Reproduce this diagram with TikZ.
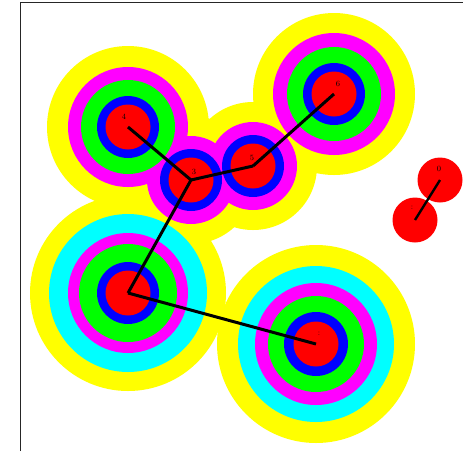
\documentclass[tikz,border=0pt]{standalone}
\definecolor{yl}{RGB}{255,255,0}
\definecolor{cy}{RGB}{0,255,255}
\definecolor{mg}{RGB}{255,0,255}
\definecolor{gr}{RGB}{0,255,0}
\definecolor{bl}{RGB}{0,0,255}
\definecolor{rd}{RGB}{255,0,0}
\begin{document}
\begin{tikzpicture}[x=1pt,y=-1pt,
  core/.style={circle,fill=rd,minimum size=45pt,inner sep=0pt},
  link/.style={draw=black,line width=3pt},
  lab/.style={inner sep=0pt,font=\fontsize{8}{8}\selectfont,text=black}]
\useasboundingbox (0,0) rectangle (463,451);
\fill[white] (0,0) rectangle (463,451);
\draw[black!85,line width=1.6pt] (20.5,451) -- (20.5,2.5) -- (463,2.5);
% centres
\coordinate (c4) at (128,127);
\coordinate (c3) at (191,180);
\coordinate (c5) at (253,166);
\coordinate (c6) at (334,94);
\coordinate (c7) at (128,293);
\coordinate (c2) at (316,344);
\coordinate (c0) at (440,180);
\coordinate (c1) at (415,220);
% yellow layer
\foreach \c/\r in {c4/81,c3/64,c5/64,c6/81,c7/98,c2/99}
  \fill[yl] (\c) circle[radius=\r pt];
% cyan layer
\foreach \c/\r in {c7/79,c2/78}
  \fill[cy] (\c) circle[radius=\r pt];
% magenta layer
\foreach \c/\r in {c4/60,c3/44,c5/44,c6/61,c7/60,c2/61}
  \fill[mg] (\c) circle[radius=\r pt];
% green layer
\foreach \c/\r in {c4/47,c6/47,c7/49,c2/48}
  \fill[gr] (\c) circle[radius=\r pt];
% blue layer
\foreach \c/\r in {c4/31,c3/31,c5/31,c6/31,c7/31,c2/32}
  \fill[bl] (\c) circle[radius=\r pt];
% red cores
\node[core] (n4) at (c4) {};
\node[core] (n3) at (c3) {};
\node[core] (n5) at (c5) {};
\node[core] (n6) at (c6) {};
\node[core] (n7) at (c7) {};
\node[core] (n2) at (c2) {};
\node[core] (n0) at (c0) {};
\node[core] (n1) at (c1) {};
% links
\draw[link] (n4.center) -- (n3.center);
\draw[link] (n3.center) -- (n5.center);
\draw[link] (n5.center) -- (n6.center);
\draw[link] (n3.center) -- (n7.center);
\draw[link] (n7.center) -- (n2.center);
\draw[draw=black,line width=2.4pt] (n0.center) -- (n1.center);
% labels
\node[lab] (l4) at (124,117) {4};
\node[lab] (l3) at (194,172) {3};
\node[lab] (l5) at (252,158) {5};
\node[lab] (l6) at (338,84) {6};
\node[lab] (l0) at (439,169) {0};
\node[lab] (l1) at (412,208) {:};
\node[lab] (l2) at (319,334) {:};
\end{tikzpicture}
\end{document}
